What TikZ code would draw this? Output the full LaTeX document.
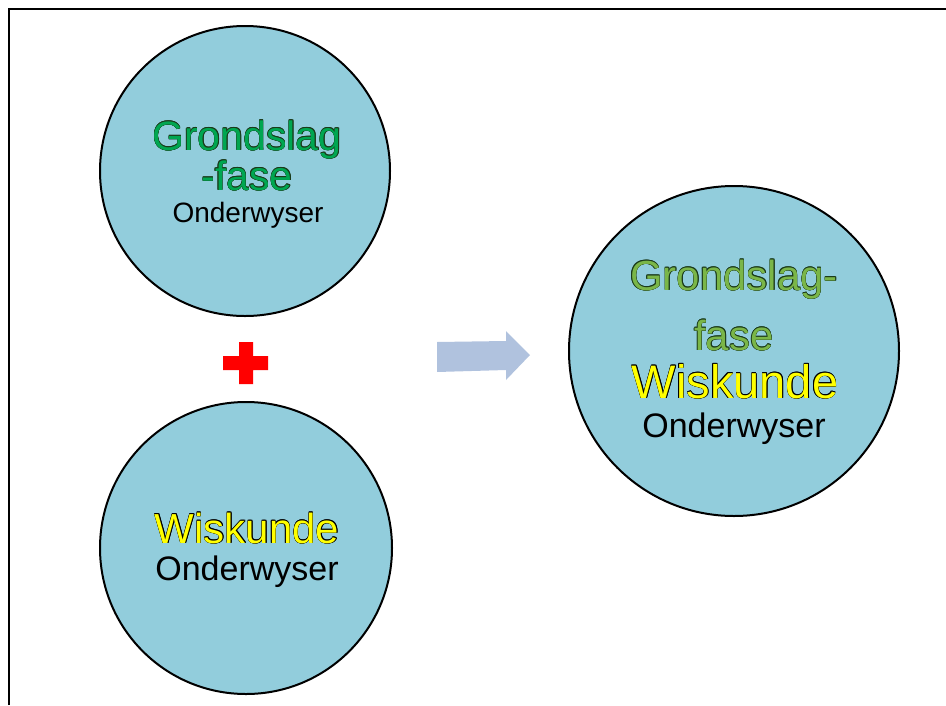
\documentclass[tikz,border=0pt]{standalone}
\usepackage{fontspec}
\setmainfont{Liberation Sans}
\definecolor{circfill}{HTML}{92CDDC}
\definecolor{greenA}{HTML}{00A651}
\definecolor{greenB}{HTML}{7AB648}
\definecolor{yellowA}{HTML}{FFFF00}
\definecolor{arrowfill}{HTML}{B0C2DE}
\definecolor{plusred}{HTML}{FF0000}
\definecolor{outlA}{HTML}{1A3A1A}
\newcommand\oc[4]{\rlap{\color{#3}\hspace*{#1}\raisebox{#2}{#4}}}
\newcommand\outlined[3]{\leavevmode
  \oc{-0.4pt}{0pt}{#2}{#3}\oc{0.4pt}{0pt}{#2}{#3}\oc{0pt}{0.4pt}{#2}{#3}\oc{0pt}{-0.4pt}{#2}{#3}%
  \oc{-0.28pt}{0.28pt}{#2}{#3}\oc{0.28pt}{0.28pt}{#2}{#3}\oc{-0.28pt}{-0.28pt}{#2}{#3}\oc{0.28pt}{-0.28pt}{#2}{#3}%
  {\color{#1}#3}}
\begin{document}
\begin{tikzpicture}[x=1pt,y=-1pt,
  circ/.style={circle, draw=black, line width=2pt, fill=circfill, minimum size=#1, inner sep=0pt},
  lbl/.style={anchor=base, inner sep=0pt}]
\useasboundingbox (0,0) rectangle (946,705);
% frame
\coordinate (fa) at (8.5,705);
\coordinate (fb) at (8.5,8.5);
\coordinate (fc) at (946,8.5);
\draw[line width=2pt] (fa) -- (fb) -- (fc);
% circles
\node[circ=290pt] (c1) at (245,171) {};
\node[circ=292pt] (c2) at (246,548) {};
\node[circ=330pt] (c3) at (734,351) {};
% circle 1 texts
\node[lbl] (t1a) at (247,150) {\fontsize{41}{41}\selectfont\outlined{greenA}{outlA}{Grondslag}};
\node[lbl] (t1b) at (247,190) {\fontsize{41}{41}\selectfont\outlined{greenA}{outlA}{-fase}};
\node[lbl] (t1c) at (248,222) {\fontsize{28}{28}\selectfont Onderwyser};
% circle 2 texts
\node[lbl] (t2a) at (247,543) {\fontsize{42}{42}\selectfont\outlined{yellowA}{black}{Wiskunde}};
\node[lbl] (t2b) at (247,580) {\fontsize{34}{34}\selectfont Onderwyser};
% circle 3 texts
\node[lbl] (t3a) at (734,290) {\fontsize{42}{42}\selectfont\outlined{greenB}{outlA}{Grondslag-}};
\node[lbl] (t3b) at (734,350) {\fontsize{42}{42}\selectfont\outlined{greenB}{outlA}{fase}};
\node[lbl] (t3c) at (735,398) {\fontsize{47}{47}\selectfont\outlined{yellowA}{black}{Wiskunde}};
\node[lbl] (t3d) at (734,437) {\fontsize{34}{34}\selectfont Onderwyser};
% plus sign
\fill[plusred] (239,342) -- (253,342) -- (253,356) -- (268,356) -- (268,370) -- (253,370)
  -- (253,384) -- (239,384) -- (239,370) -- (223,370) -- (223,356) -- (239,356) -- cycle;
% block arrow
\fill[arrowfill] (437,342) -- (506,341) -- (506,331) -- (530,355) -- (506,380) -- (506,370) -- (437,372) -- cycle;
\end{tikzpicture}
\end{document}
